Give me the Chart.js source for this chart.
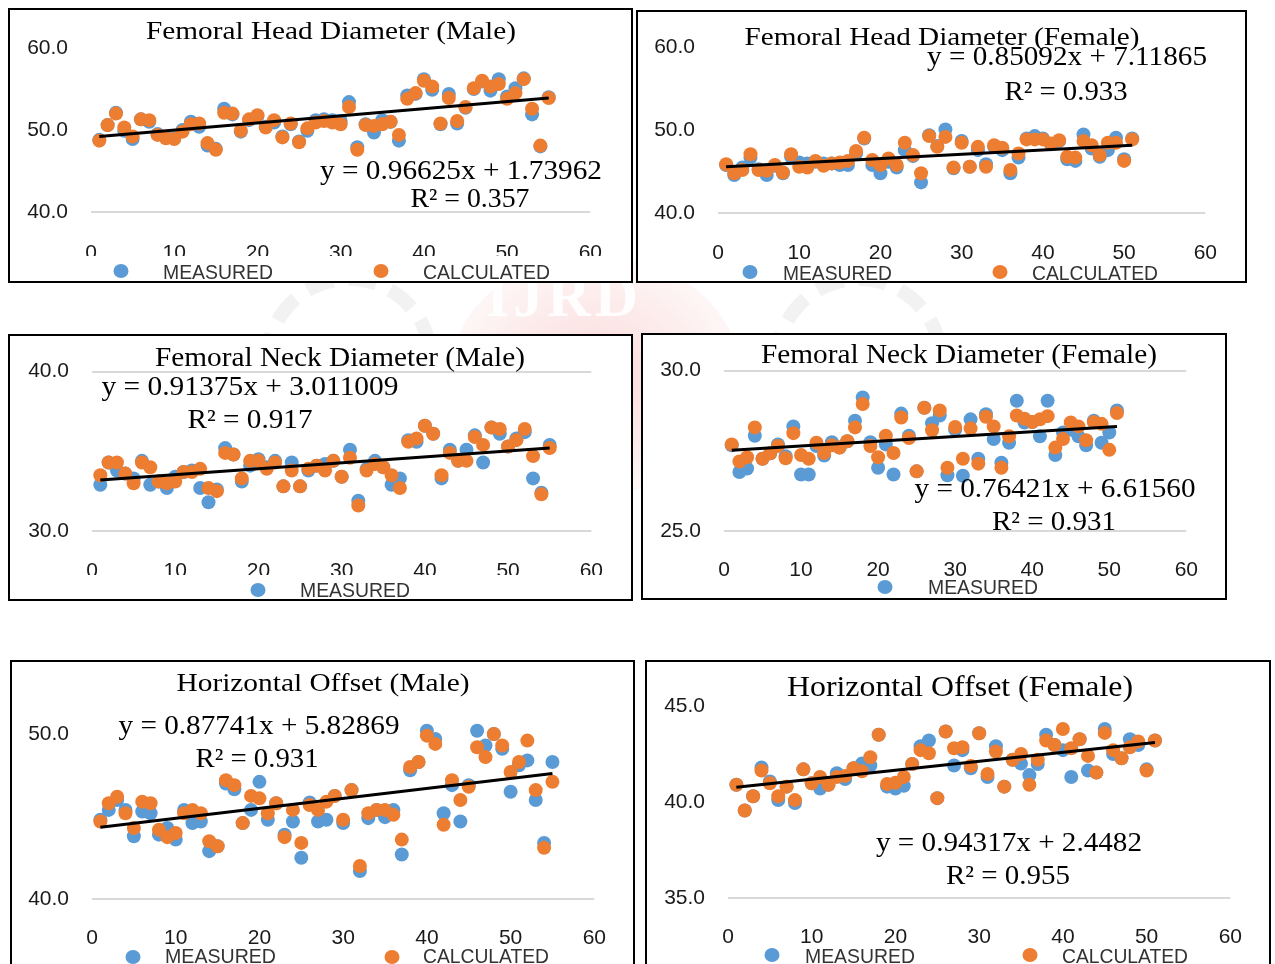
<!DOCTYPE html>
<html>
<head>
<meta charset="utf-8">
<script src="https://cdn.jsdelivr.net/npm/chart.js@4.4.1/dist/chart.umd.min.js"></script>
<style>
    body { margin: 0; width: 1275px; height: 964px; overflow: hidden; background: #fff; position: relative; }
    .panel { position: absolute; border: 2px solid #000; background: #fff; overflow: hidden; box-sizing: border-box; }
    .panel canvas { display: block; }
    #blob { position: absolute; left: 450px; top: 255px; width: 290px; height: 240px; border-radius: 50%;
            background: radial-gradient(ellipse at center, rgba(238,120,120,0.28), rgba(245,170,170,0.10) 70%, rgba(255,255,255,0) 100%); }
    #mark { position: absolute; left: 486px; top: 262px; font: bold 60px "Liberation Serif"; color: rgba(255,255,255,0.9); letter-spacing: 4px; }
    .ring { position: absolute; border-radius: 50%; border: 14px dashed rgba(150,150,150,0.12); }
</style>
</head>
<body>
<div id="blob"></div>
<div class="ring" style="left:260px;top:272px;width:150px;height:150px;"></div>
<div class="ring" style="left:770px;top:272px;width:150px;height:150px;"></div>
<div id="mark">IJRD</div>

<script>
// sample numbers along the x axis
const malePos = [1,2,3,4,5,6,7,8,9,10,11,12,13,14,15,16,17,18,19,20,21,22,23,24,25,26,27,28,29,30,
    31,32,33,34,35,36,37,38,39,40,41,42,43,44,45,46,47,48,49,50,51,52,53,54,55];
const femalePos = [1,2,3,4,5,6,7,8,9,10,11,12,13,14,15,16,17,18,19,20,21,22,23,24,25,26,27,28,29,30,
    31,32,33,34,35,36,37,38,39,40,41,42,43,44,45,46,47,48,49,50,51];
const maleTrendX = [1, 55];
const femaleTrendX = [1, 51];

// femoral head diameter
const headMaleMeasured = [48.8,50.6,52.1,49.9,48.9,51.3,51.0,49.5,49.1,49.0,
    50.0,51.0,50.4,48.1,47.7,52.6,51.9,49.8,51.2,51.7,
    50.4,50.9,49.2,50.7,48.6,49.9,51.2,51.3,51.2,51.1,
    53.4,47.9,50.7,49.7,51.2,51.0,48.7,54.2,54.4,56.2,
    54.9,50.7,54.4,50.8,52.7,55.0,55.9,54.8,56.2,54.1,
    55.1,56.3,51.9,48.0,54.0];
const headMaleCalculated = [48.7,50.6,52.0,50.3,49.2,51.3,51.2,49.4,49.0,48.9,
    49.8,50.7,50.8,48.4,47.6,52.1,52.0,49.9,51.3,51.8,
    50.3,51.2,49.1,50.8,48.5,50.2,50.9,51.1,50.9,50.7,
    52.8,47.6,50.6,50.5,50.7,51.0,49.4,53.8,54.5,56.0,
    55.3,50.8,53.9,51.1,52.8,55.1,56.0,55.3,55.6,53.8,
    54.5,56.2,52.6,48.1,53.9];
const headMaleTrend = [49.2, 53.9];

const headFemaleMeasured = [45.8,44.6,45.5,46.7,45.3,44.6,45.7,44.8,46.8,46.1,
    46.0,46.2,46.0,46.0,45.8,45.8,47.2,49.0,45.8,44.8,
    46.2,45.5,47.6,46.9,43.7,49.4,48.1,50.1,45.4,48.7,
    45.6,47.6,45.9,48.0,47.6,44.8,46.7,49.0,49.3,49.0,
    48.3,48.7,46.5,46.3,49.5,47.8,46.8,47.6,49.1,46.5,
    49.0];
const headFemaleCalculated = [45.9,44.8,45.2,47.1,45.2,45.1,45.8,44.9,47.1,45.6,
    45.5,46.3,45.7,46.0,46.1,46.3,47.5,49.1,46.4,45.8,
    46.6,45.8,48.5,47.0,44.8,49.3,48.0,49.2,45.5,48.5,
    45.6,48.0,45.6,48.2,47.9,45.2,47.2,48.9,48.9,48.9,
    48.4,48.8,46.8,46.7,48.7,48.2,47.0,48.5,48.5,46.3,
    48.9];
const headFemaleTrend = [45.6, 48.2];

// femoral neck diameter
const neckMaleMeasured = [32.9,34.3,33.8,33.6,33.3,34.4,32.9,33.1,32.7,33.4,
    33.7,33.8,32.7,31.8,32.6,35.2,34.8,33.1,34.1,34.5,
    34.0,34.4,32.8,34.3,32.8,33.8,34.1,34.2,34.4,33.4,
    35.1,31.9,33.9,34.4,34.0,32.9,33.3,35.7,35.6,36.6,
    36.1,33.3,35.1,34.4,35.1,36.0,34.3,36.5,36.1,35.3,
    35.8,36.2,33.3,32.4,35.4];
const neckMaleCalculated = [33.5,34.3,34.3,33.6,33.0,34.3,34.0,33.1,33.0,33.1,
    33.7,33.7,33.9,32.7,32.5,34.9,34.8,33.3,34.4,34.4,
    33.9,34.3,32.8,33.8,32.8,33.9,34.1,33.8,34.4,33.4,
    34.6,31.6,33.8,34.2,34.0,33.5,32.7,35.6,35.8,36.6,
    36.1,33.5,34.9,34.4,34.4,35.9,35.4,36.5,36.4,35.3,
    35.7,36.4,34.7,32.3,35.2];
const neckMaleTrend = [33.2, 35.2];

const neckFemaleMeasured = [27.67,26.84,26.95,27.97,27.25,27.42,27.70,27.33,28.26,26.76,
    26.76,27.65,27.35,27.77,27.60,27.80,28.44,29.16,27.77,26.97,
    27.70,26.76,28.66,27.97,26.86,28.84,28.36,28.60,26.74,28.16,
    26.72,28.48,27.25,28.64,27.87,27.13,27.75,29.06,28.38,28.40,
    27.95,29.06,27.37,28.07,28.16,27.95,27.67,28.44,27.75,28.07,
    28.76];
const neckFemaleCalculated = [27.70,27.17,27.30,28.23,27.25,27.42,27.65,27.27,28.05,27.37,
    27.25,27.75,27.43,27.67,27.60,27.80,28.23,28.96,27.65,27.30,
    27.97,27.43,28.54,27.90,26.86,28.84,28.14,28.76,26.97,28.24,
    27.25,28.20,27.10,28.56,28.26,26.97,27.95,28.60,28.50,28.40,
    28.48,28.58,27.60,27.87,28.38,28.26,27.83,28.40,28.34,27.53,
    28.68];
const neckFemaleTrend = [27.52, 28.26];

// horizontal offset
const offsetMaleMeasured = [44.8,45.4,46.0,45.4,43.8,45.3,45.2,43.9,44.3,43.6,
    45.4,44.6,44.7,42.9,43.2,47.0,46.65,44.6,45.4,47.1,
    44.8,45.8,43.9,44.7,42.5,45.85,44.7,44.8,46.25,44.6,
    46.6,41.7,44.9,45.4,44.96,45.4,42.7,47.8,48.3,50.2,
    49.7,45.2,46.9,44.7,46.9,50.2,49.3,50.0,49.1,46.5,
    48.1,48.4,46.0,43.4,48.3];
const offsetMaleCalculated = [44.7,45.8,46.2,45.2,44.3,45.9,45.8,44.2,43.75,44.0,
    45.2,45.4,45.2,43.5,43.2,47.2,46.9,44.6,46.25,46.1,
    45.2,45.8,43.75,45.4,43.4,45.7,45.4,45.9,46.25,44.8,
    46.6,42.0,45.2,45.4,45.4,45.1,43.6,48.0,48.3,49.9,
    49.4,44.5,47.2,46.0,46.8,49.2,48.6,50.0,49.3,47.7,
    48.3,49.6,46.6,43.1,47.1];
const offsetMaleTrend = [44.35, 47.6];

const offsetFemaleMeasured = [40.9,39.56,40.3,41.8,41.07,40.1,40.8,39.95,41.7,40.98,
    40.7,40.9,41.5,41.2,41.76,42.0,41.9,43.5,40.8,40.7,
    40.84,41.98,42.9,43.2,40.2,43.67,41.9,42.7,41.76,43.58,
    41.3,42.9,40.8,42.2,42.0,41.4,41.98,43.5,42.97,42.7,
    41.3,43.27,41.64,41.53,43.8,42.5,42.28,43.27,42.97,41.7,
    43.2];
const offsetFemaleCalculated = [40.9,39.56,40.3,41.64,40.98,40.3,40.8,40.1,41.7,40.98,
    41.3,40.9,41.3,41.36,41.76,41.6,42.33,43.5,40.94,41.0,
    41.3,41.98,42.7,42.54,40.2,43.67,42.8,42.85,41.88,43.58,
    41.46,42.63,40.8,42.2,42.5,40.9,42.2,43.2,42.97,43.8,
    42.8,43.27,42.4,41.53,43.6,42.7,42.28,42.85,43.15,41.64,
    43.2];
const offsetFemaleTrend = [40.77, 43.1];

const BLUE = '#5B9BD5';
const ORANGE = '#ED7D31';
const MEAS = ['MEASURED', BLUE];
const CALC = ['CALCULATED', ORANGE];

// layout of each boxed chart (page px); area = chart area inside the canvas: left, right, top, bottom
const panels = [
    { title: 'Femoral Head Diameter (Male)', eq: 'y = 0.96625x + 1.73962', r2: 'R² = 0.357',
      pos: malePos, measured: headMaleMeasured, calculated: headMaleCalculated, trendX: maleTrendX, trendY: headMaleTrend,
      yMin: 40, yMax: 60, yTicks: [40, 50, 60], grid: [40], tickPad: 29,
      box: [8, 8, 625, 275], area: [81, 593, 38, 202],
      titleAt: [321, 22, 26, 370], eqAt: [451, 162, 282], r2At: [460, 190, 119],
      band: 246, legend: [[MEAS, 111, 261, 153, 269, 110], [CALC, 371, 261, 413, 269, 127]] },
    { title: 'Femoral Head Diameter (Female)', eq: 'y = 0.85092x + 7.11865', r2: 'R² = 0.933',
      pos: femalePos, measured: headFemaleMeasured, calculated: headFemaleCalculated, trendX: femaleTrendX, trendY: headFemaleTrend,
      yMin: 40, yMax: 60, yTicks: [40, 50, 60], grid: [40], tickPad: 28,
      box: [636, 10, 611, 273], area: [80, 578, 31, 201],
      titleAt: [304, 26, 26, 395], eqAt: [429, 46, 280], r2At: [428, 81, 123],
      band: 249, legend: [[MEAS, 112, 260, 145, 268, 109], [CALC, 362, 260, 394, 268, 126]] },
    { title: 'Femoral Neck Diameter (Male)', eq: 'y = 0.91375x + 3.011009', r2: 'R² = 0.917',
      pos: malePos, measured: neckMaleMeasured, calculated: neckMaleCalculated, trendX: maleTrendX, trendY: neckMaleTrend,
      yMin: 30, yMax: 40, yTicks: [30, 40], grid: [30, 40], tickPad: 28,
      box: [8, 334, 625, 267], area: [82, 593, 21, 195],
      titleAt: [330, 23, 27, 370], eqAt: [240, 52, 297], r2At: [240, 85, 125],
      band: 239, legend: [[MEAS, 248, 254, 290, 261, 110]] },
    { title: 'Femoral Neck Diameter (Female)', eq: 'y = 0.76421x + 6.61560', r2: 'R² = 0.931',
      pos: femalePos, measured: neckFemaleMeasured, calculated: neckFemaleCalculated, trendX: femaleTrendX, trendY: neckFemaleTrend,
      yMin: 25, yMax: 30, yTicks: [25, 30], grid: [25, 30], tickPad: 27,
      box: [641, 333, 586, 267], area: [81, 555, 31, 196],
      titleAt: [316, 21, 27, 396], eqAt: [412, 155, 281], r2At: [411, 188, 124],
      band: null, legend: [[MEAS, 242, 252, 285, 259, 110]] },
    { title: 'Horizontal Offset (Male)', eq: 'y = 0.87741x + 5.82869', r2: 'R² = 0.931',
      pos: malePos, measured: offsetMaleMeasured, calculated: offsetMaleCalculated, trendX: maleTrendX, trendY: offsetMaleTrend,
      yMin: 40, yMax: 52, yTicks: [40, 50], grid: [40], tickPad: 27,
      box: [10, 660, 625, 320], area: [80, 594, 39, 237],
      titleAt: [311, 22, 26, 293], eqAt: [247, 65, 281], r2At: [245, 98, 123],
      band: 286, legend: [[MEAS, 121, 295, 153, 301, 111], [CALC, 380, 295, 411, 301, 126]] },
    { title: 'Horizontal Offset (Female)', eq: 'y = 0.94317x + 2.4482', r2: 'R² = 0.955',
      pos: femalePos, measured: offsetFemaleMeasured, calculated: offsetFemaleCalculated, trendX: femaleTrendX, trendY: offsetFemaleTrend,
      yMin: 35, yMax: 45, yTicks: [35, 40, 45], grid: [35], tickPad: 27,
      box: [645, 660, 626, 320], area: [81, 595, 44, 236],
      titleAt: [313, 26, 30, 346], eqAt: [362, 182, 266], r2At: [361, 215, 124],
      band: 286, legend: [[MEAS, 125, 293, 158, 301, 110], [CALC, 383, 293, 415, 301, 126]] }
];

// draws text squeezed/stretched to a given width
function fitText(ctx, txt, cx, cy, font, w) {
    ctx.save();
    ctx.font = font;
    const m = ctx.measureText(txt).width;
    ctx.translate(cx, cy);
    ctx.scale(w / m, 1);
    ctx.textAlign = 'center';
    ctx.textBaseline = 'middle';
    ctx.fillStyle = '#000';
    ctx.fillText(txt, 0, 0);
    ctx.restore();
}

function makePanel(p) {
    const [left, top, width, height] = p.box;
    const cw = width - 4, ch = height - 4;
    const [aL, aR, aT, aB] = p.area;

    const div = document.createElement('div');
    div.className = 'panel';
    div.style.left = left + 'px';
    div.style.top = top + 'px';
    div.style.width = width + 'px';
    div.style.height = height + 'px';
    const canvas = document.createElement('canvas');
    canvas.width = cw;
    canvas.height = ch;
    canvas.style.width = cw + 'px';
    canvas.style.height = ch + 'px';
    div.appendChild(canvas);
    document.body.appendChild(div);

    // title, equation and the cut-off legend at the bottom
    const decor = {
        id: 'decor',
        afterDraw(chart) {
            const ctx = chart.ctx;
            fitText(ctx, p.title, p.titleAt[0], p.titleAt[1], p.titleAt[2] + 'px "Liberation Serif"', p.titleAt[3]);
            fitText(ctx, p.eq, p.eqAt[0], p.eqAt[1], '27px "Liberation Serif"', p.eqAt[2]);
            fitText(ctx, p.r2, p.r2At[0], p.r2At[1], '27px "Liberation Serif"', p.r2At[2]);
            if (p.band !== null) {
                ctx.fillStyle = '#fff';
                ctx.fillRect(0, p.band, cw, ch - p.band);
            }
            p.legend.forEach(item => {
                const [[label, color], dx, dy, tx, ty, tw] = item;
                ctx.save();
                ctx.fillStyle = color;
                ctx.beginPath();
                ctx.ellipse(dx, dy, 7.5, 7, 0, 0, Math.PI * 2);
                ctx.fill();
                ctx.font = '21px "Liberation Sans"';
                const m = ctx.measureText(label).width;
                ctx.translate(tx, ty);
                ctx.scale(tw / m, 1);
                ctx.textAlign = 'left';
                ctx.textBaseline = 'alphabetic';
                ctx.fillStyle = '#333';
                ctx.fillText(label, 0, 0);
                ctx.restore();
            });
        }
    };

    new Chart(canvas, {
        type: 'scatter',
        data: {
            datasets: [
                {
                    type: 'line',
                    data: p.trendX.map((x, i) => ({ x: x, y: p.trendY[i] })),
                    borderColor: '#000',
                    borderWidth: 3,
                    pointRadius: 0,
                    order: 0
                },
                {
                    label: 'CALCULATED',
                    data: p.pos.map((x, i) => ({ x: x, y: p.calculated[i] })),
                    backgroundColor: ORANGE,
                    borderWidth: 0,
                    pointRadius: 7,
                    order: 1
                },
                {
                    label: 'MEASURED',
                    data: p.pos.map((x, i) => ({ x: x, y: p.measured[i] })),
                    backgroundColor: BLUE,
                    borderWidth: 0,
                    pointRadius: 7,
                    order: 2
                }
            ]
        },
        options: {
            responsive: false,
            animation: false,
            events: [],
            layout: { padding: { top: aT, right: cw - aR, left: 0, bottom: 0 } },
            plugins: { legend: { display: false }, tooltip: { enabled: false }, title: { display: false } },
            scales: {
                x: {
                    type: 'linear',
                    min: 0,
                    max: 60,
                    afterFit: s => { s.height = ch - aB; },
                    ticks: { stepSize: 10, padding: p.tickPad, color: '#1a1a1a', font: { family: 'Liberation Sans', size: 21 } },
                    grid: { display: false, drawTicks: false },
                    border: { display: false }
                },
                y: {
                    min: p.yMin,
                    max: p.yMax,
                    afterFit: s => { s.width = aL; },
                    afterBuildTicks: s => { s.ticks = p.yTicks.map(v => ({ value: v })); },
                    ticks: {
                        padding: 23,
                        color: '#1a1a1a',
                        font: { family: 'Liberation Sans', size: 21 },
                        callback: v => Number(v).toFixed(1)
                    },
                    grid: {
                        drawTicks: false,
                        lineWidth: 2,
                        color: c => (c.tick && p.grid.includes(c.tick.value)) ? '#d9d9d9' : 'rgba(0,0,0,0)'
                    },
                    border: { display: false }
                }
            }
        },
        plugins: [decor]
    });
}

panels.forEach(makePanel);
</script>
</body>
</html>
